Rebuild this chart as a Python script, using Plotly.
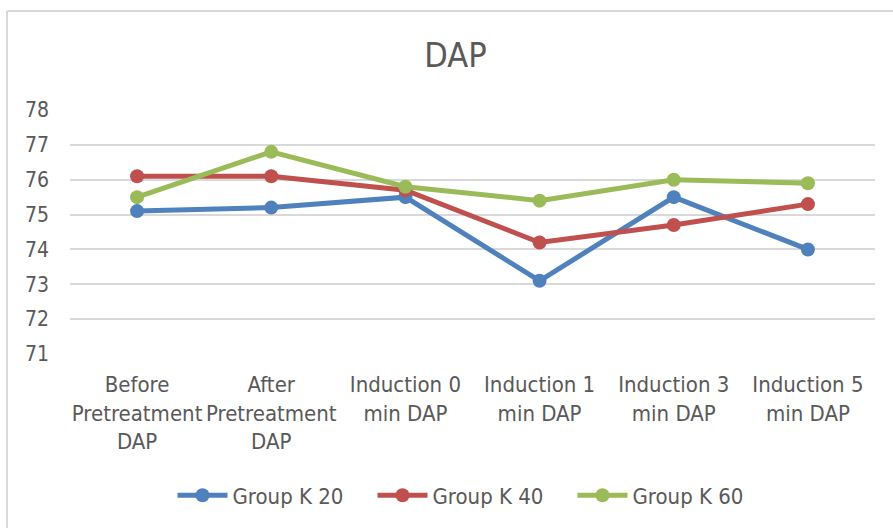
import plotly.graph_objects as go

categories = ["Before<br>Pretreatment<br>DAP", "After<br>Pretreatment<br>DAP",
              "Induction 0<br>min DAP", "Induction 1<br>min DAP",
              "Induction 3<br>min DAP", "Induction 5<br>min DAP"]
group_k20 = [75.1, 75.2, 75.5, 73.1, 75.5, 74.0]
group_k40 = [76.1, 76.1, 75.7, 74.2, 74.7, 75.3]
group_k60 = [75.5, 76.8, 75.8, 75.4, 76.0, 75.9]
series_names = ["Group K 20", "Group K 40", "Group K 60"]
colors = ["#4F81BD", "#C0504D", "#9BBB59"]
y_ticks = [71, 72, 73, 74, 75, 76, 77, 78]

FONT = "DejaVu Sans Condensed, Liberation Sans Narrow, Roboto, sans-serif"
fig = go.Figure()
for name, vals, c in zip(series_names, [group_k20, group_k40, group_k60], colors):
    fig.add_trace(go.Scatter(x=list(range(len(categories))), y=vals, name=name,
                             mode="lines+markers",
                             line=dict(color=c, width=5),
                             marker=dict(color=c, size=14)))

fig.update_layout(
    width=893, height=528,
    margin=dict(l=70, r=18, t=110, b=174),
    paper_bgcolor="white", plot_bgcolor="white",
    font=dict(family=FONT, color="#595959", size=22),
    title=dict(text="DAP", x=0.51, xanchor="center", y=0.895, yanchor="middle",
               font=dict(family=FONT, size=34, color="#595959")),
    xaxis=dict(tickmode="array", tickvals=list(range(len(categories))), ticktext=categories,
               range=[-0.5, len(categories) - 0.5], showgrid=False, zeroline=False,
               showline=False, ticks="", tickfont=dict(size=22, color="#595959"),
               ticklabelstandoff=15),
    yaxis=dict(range=[71, 78], tickvals=y_ticks, showgrid=True, gridcolor="#D9D9D9",
               gridwidth=1.5, zeroline=False, showline=False, ticks="",
               tickfont=dict(size=21, color="#595959"), ticklabelstandoff=20),
    legend=dict(orientation="h", x=0.5, xanchor="center", y=-0.58, yanchor="middle",
                font=dict(size=22, color="#595959"), itemwidth=50, tracegroupgap=0,
                entrywidth=135),
    showlegend=True,
)
# chart frame (top and left edges)
fig.add_shape(type="line", xref="paper", yref="paper",
              x0=(7 - 70) / 805, x1=(7 - 70) / 805, y0=(528 - 11 - 174) / 244, y1=-174 / 244,
              line=dict(color="#D9D9D9", width=2))
fig.add_shape(type="line", xref="paper", yref="paper",
              x0=(7 - 70) / 805, x1=(893 - 70) / 805, y0=(528 - 11 - 174) / 244, y1=(528 - 11 - 174) / 244,
              line=dict(color="#D9D9D9", width=2))
fig.write_html("out.html", config={"displayModeBar": False},
               post_script="document.body.style.margin='0';document.body.style.padding='0';")
